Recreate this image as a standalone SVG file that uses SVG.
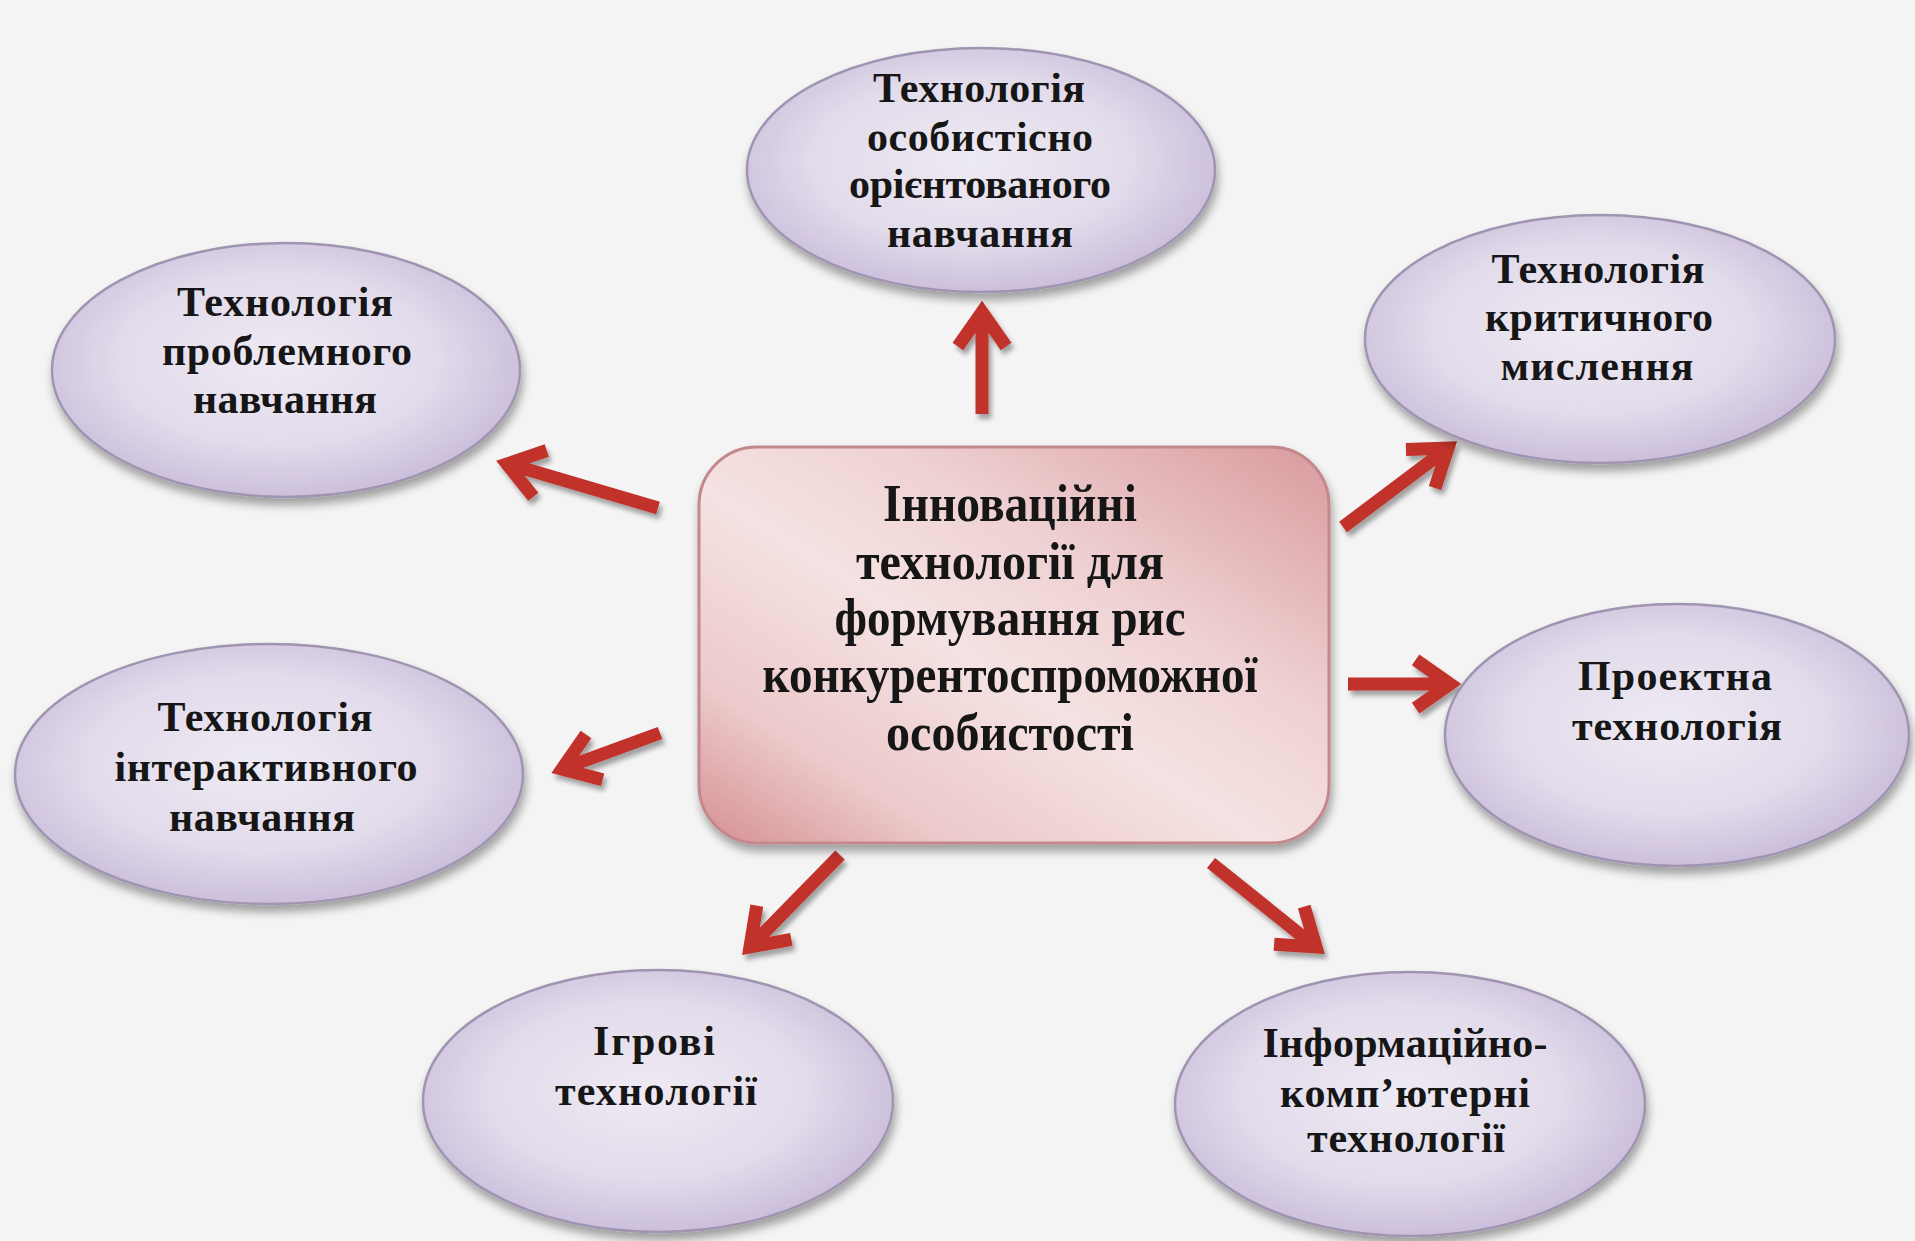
<svg xmlns="http://www.w3.org/2000/svg" width="1915" height="1241" viewBox="0 0 1915 1241">
<defs>
  <radialGradient id="ellFill" cx="0.48" cy="0.46" r="0.62">
    <stop offset="0" stop-color="#eeeaf3"/>
    <stop offset="0.55" stop-color="#e2dbeb"/>
    <stop offset="1" stop-color="#c2b3d5"/>
  </radialGradient>
  <linearGradient id="boxFill" x1="1" y1="0" x2="0" y2="1">
    <stop offset="0" stop-color="#d99a9d"/>
    <stop offset="0.35" stop-color="#efd2d3"/>
    <stop offset="0.55" stop-color="#f5e2e2"/>
    <stop offset="0.8" stop-color="#ecc9ca"/>
    <stop offset="1" stop-color="#d58f92"/>
  </linearGradient>
  <filter id="shadow" x="-20%" y="-20%" width="140%" height="150%">
    <feGaussianBlur in="SourceAlpha" stdDeviation="5"/>
    <feOffset dx="2" dy="7" result="b"/>
    <feComponentTransfer><feFuncA type="linear" slope="0.35"/></feComponentTransfer>
    <feMerge><feMergeNode/><feMergeNode in="SourceGraphic"/></feMerge>
  </filter>
  <filter id="ashadow" x="-30%" y="-30%" width="160%" height="160%">
    <feGaussianBlur in="SourceAlpha" stdDeviation="2.5"/>
    <feOffset dx="3" dy="5" result="b"/>
    <feComponentTransfer><feFuncA type="linear" slope="0.35"/></feComponentTransfer>
    <feMerge><feMergeNode/><feMergeNode in="SourceGraphic"/></feMerge>
  </filter>
</defs>
<style>
  .ell { fill: url(#ellFill); stroke: #9f95b0; stroke-width: 2.5; filter: url(#shadow); }
  .box { fill: url(#boxFill); stroke: #c3888b; stroke-width: 3; filter: url(#shadow); }
  .t { font-family: "Liberation Serif", "Times New Roman", serif; font-weight: bold; font-size: 42px; fill: #161616; text-anchor: middle; }
  .c { font-family: "Liberation Serif", "Times New Roman", serif; font-weight: bold; font-size: 53px; fill: #161616; text-anchor: middle; }
  .arr { fill: none; stroke: #c0302a; stroke-width: 13; stroke-linejoin: miter; stroke-miterlimit: 10; filter: url(#ashadow); }
</style>
<rect x="0" y="0" width="1915" height="1241" fill="#f4f4f4"/>

<g id="connectors">
  <path class="arr" d="M982 414 L982 318 M957.9 346.4 L982 312 L1006.1 346.4"/>
  <path class="arr" d="M658 508 L512 465 M533.3 496.8 L507 464 L546.8 450.5"/>
  <path class="arr" d="M1343 527 L1444 451 M1406 449.4 L1448 448 L1435 487.9"/>
  <path class="arr" d="M1348 684 L1444 684 M1415.6 659.9 L1450 684 L1415.6 708.1"/>
  <path class="arr" d="M660 733 L567 767 M602.6 779.8 L562 769 L586 734.5"/>
  <path class="arr" d="M840 855 L754 943 M791.3 939.3 L750 947 L756.8 905.6"/>
  <path class="arr" d="M1211 863 L1312 944 M1304.2 906.7 L1316 947 L1274.1 944.3"/>
</g>

<g id="center">
  <rect class="box" x="699" y="447" width="630" height="396" rx="58" ry="58"/>
  <text class="c" x="1010" y="521" textLength="254" lengthAdjust="spacingAndGlyphs">Інноваційні</text>
  <text class="c" x="1010" y="579" textLength="308" lengthAdjust="spacingAndGlyphs">технології для</text>
  <text class="c" x="1010" y="635" textLength="351" lengthAdjust="spacingAndGlyphs">формування рис</text>
  <text class="c" x="1010" y="692" textLength="495" lengthAdjust="spacingAndGlyphs">конкурентоспроможної</text>
  <text class="c" x="1010" y="750" textLength="248" lengthAdjust="spacingAndGlyphs">особистості</text>
</g>

<g id="n-top">
  <ellipse class="ell" cx="981" cy="170" rx="234" ry="122"/>
  <text class="t" x="979" y="102" textLength="212">Технологія</text>
  <text class="t" x="980" y="151" textLength="226">особистісно</text>
  <text class="t" x="980" y="198" textLength="262">орієнтованого</text>
  <text class="t" x="980" y="247" textLength="186">навчання</text>
</g>

<g id="n-topleft">
  <ellipse class="ell" cx="286" cy="370" rx="234" ry="127"/>
  <text class="t" x="285" y="316" textLength="216">Технологія</text>
  <text class="t" x="287" y="365" textLength="250">проблемного</text>
  <text class="t" x="285" y="413" textLength="184">навчання</text>
</g>

<g id="n-topright">
  <ellipse class="ell" cx="1600" cy="339" rx="235" ry="124"/>
  <text class="t" x="1598" y="283" textLength="213">Технологія</text>
  <text class="t" x="1599" y="331" textLength="228">критичного</text>
  <text class="t" x="1597" y="380" textLength="193">мислення</text>
</g>

<g id="n-right">
  <ellipse class="ell" cx="1677" cy="735" rx="232" ry="131"/>
  <text class="t" x="1675" y="690" textLength="194">Проектна</text>
  <text class="t" x="1677" y="740" textLength="210">технологія</text>
</g>

<g id="n-left">
  <ellipse class="ell" cx="269" cy="774" rx="254" ry="130"/>
  <text class="t" x="265" y="731" textLength="215">Технологія</text>
  <text class="t" x="266" y="781" textLength="303">інтерактивного</text>
  <text class="t" x="262" y="831" textLength="186">навчання</text>
</g>

<g id="n-bottomleft">
  <ellipse class="ell" cx="658" cy="1101" rx="235" ry="131"/>
  <text class="t" x="654" y="1055" textLength="122">Ігрові</text>
  <text class="t" x="656" y="1105" textLength="202">технології</text>
</g>

<g id="n-bottomright">
  <ellipse class="ell" cx="1410" cy="1104" rx="235" ry="132"/>
  <text class="t" x="1405" y="1057" textLength="285">Інформаційно-</text>
  <text class="t" x="1405" y="1107" textLength="250">комп’ютерні</text>
  <text class="t" x="1406" y="1152" textLength="198">технології</text>
</g>
</svg>
